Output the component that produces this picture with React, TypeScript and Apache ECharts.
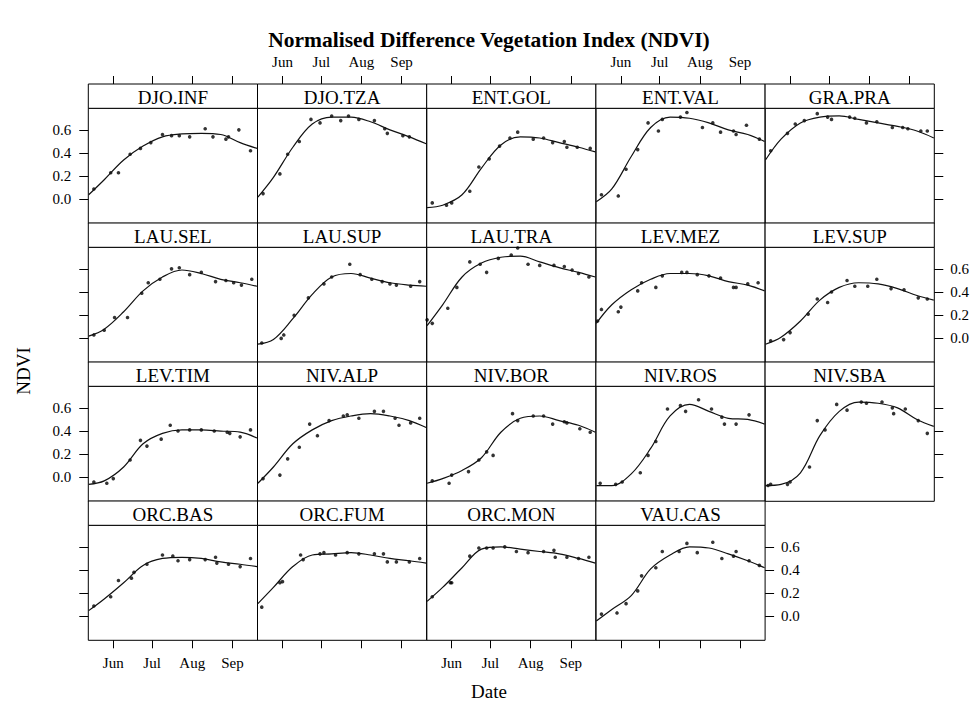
import React, { useEffect, useRef } from 'react';
import * as echarts from 'echarts';

const sites = [
  'DJO.INF', 'DJO.TZA', 'ENT.GOL', 'ENT.VAL', 'GRA.PRA',
  'LAU.SEL', 'LAU.SUP', 'LAU.TRA', 'LEV.MEZ', 'LEV.SUP',
  'LEV.TIM', 'NIV.ALP', 'NIV.BOR', 'NIV.ROS', 'NIV.SBA',
  'ORC.BAS', 'ORC.FUM', 'ORC.MON', 'VAU.CAS',
];

// observation day-of-year per site
const obsDays: number[][] = [
  [137, 150, 156, 165, 173, 181, 190, 197, 203, 211, 223, 229, 239, 241, 249, 258],
  [137, 150, 156, 165, 174, 181, 190, 197, 203, 211, 223, 231, 233, 245, 250],
  [137, 148, 152, 166, 173, 181, 189, 197, 203, 215, 223, 230, 239, 241, 249, 259],
  [137, 150, 156, 165, 173, 181, 184, 198, 203, 215, 223, 229, 239, 241, 249, 259],
  [137, 150, 156, 163, 173, 181, 184, 198, 202, 211, 219, 231, 239, 243, 253, 258],
  [137, 145, 153, 163, 174, 179, 188, 197, 203, 211, 220, 231, 239, 245, 251, 259],
  [136, 151, 153, 161, 172, 184, 190, 204, 212, 221, 229, 235, 240, 251, 258],
  [133, 137, 149, 156, 166, 174, 179, 188, 198, 203, 211, 220, 231, 239, 245, 250, 258],
  [134, 137, 150, 152, 165, 168, 179, 184, 199, 203, 211, 220, 229, 239, 241, 250, 258],
  [137, 147, 152, 166, 173, 181, 184, 196, 202, 212, 219, 230, 240, 251, 258],
  [137, 147, 152, 165, 173, 178, 189, 196, 202, 211, 220, 230, 240, 242, 250, 258],
  [137, 150, 156, 165, 173, 179, 188, 199, 202, 211, 223, 230, 239, 242, 251, 258],
  [137, 150, 152, 165, 173, 179, 184, 199, 203, 215, 223, 230, 239, 241, 251, 259],
  [136, 148, 153, 167, 173, 179, 188, 198, 202, 212, 222, 230, 232, 241, 251],
  [135, 137, 150, 152, 167, 173, 179, 188, 196, 207, 211, 223, 231, 232, 241, 251, 258],
  [137, 150, 156, 166, 168, 178, 190, 198, 202, 211, 223, 231, 232, 241, 250, 258],
  [136, 150, 152, 166, 168, 181, 184, 193, 202, 211, 223, 230, 233, 240, 250, 258],
  [137, 151, 152, 166, 173, 179, 184, 193, 202, 211, 223, 231, 232, 241, 250, 258],
  [137, 149, 156, 165, 168, 179, 184, 197, 203, 211, 223, 230, 239, 241, 251, 259],
];

// observed NDVI per site
const obsNdvi: number[][] = [
  [0.09, 0.23, 0.23, 0.39, 0.44, 0.49, 0.56, 0.55, 0.55, 0.54, 0.61, 0.54, 0.52, 0.54, 0.60, 0.42],
  [0.05, 0.22, 0.39, 0.50, 0.69, 0.66, 0.72, 0.68, 0.72, 0.69, 0.68, 0.61, 0.57, 0.55, 0.54],
  [-0.03, -0.05, -0.03, 0.07, 0.28, 0.35, 0.46, 0.53, 0.58, 0.52, 0.53, 0.49, 0.50, 0.45, 0.45, 0.44],
  [0.04, 0.03, 0.26, 0.43, 0.66, 0.59, 0.69, 0.71, 0.75, 0.62, 0.66, 0.58, 0.59, 0.56, 0.64, 0.52],
  [0.42, 0.57, 0.65, 0.68, 0.74, 0.71, 0.69, 0.71, 0.70, 0.66, 0.67, 0.62, 0.62, 0.61, 0.59, 0.59],
  [0.03, 0.07, 0.18, 0.18, 0.39, 0.48, 0.51, 0.60, 0.61, 0.55, 0.57, 0.49, 0.50, 0.48, 0.46, 0.51],
  [-0.04, 0.00, 0.03, 0.20, 0.35, 0.47, 0.53, 0.64, 0.55, 0.51, 0.49, 0.47, 0.46, 0.45, 0.49],
  [0.16, 0.13, 0.26, 0.44, 0.66, 0.64, 0.57, 0.69, 0.72, 0.78, 0.64, 0.63, 0.63, 0.62, 0.59, 0.56, 0.53],
  [0.15, 0.25, 0.23, 0.27, 0.41, 0.48, 0.44, 0.54, 0.57, 0.57, 0.55, 0.54, 0.52, 0.44, 0.44, 0.47, 0.48],
  [-0.02, -0.01, 0.05, 0.21, 0.34, 0.31, 0.40, 0.50, 0.45, 0.45, 0.51, 0.43, 0.42, 0.35, 0.34],
  [-0.04, -0.05, -0.01, 0.15, 0.32, 0.27, 0.33, 0.45, 0.40, 0.41, 0.41, 0.40, 0.39, 0.38, 0.35, 0.41],
  [-0.01, 0.02, 0.16, 0.26, 0.46, 0.36, 0.49, 0.53, 0.54, 0.51, 0.57, 0.57, 0.51, 0.45, 0.47, 0.51],
  [-0.03, -0.05, 0.02, 0.05, 0.15, 0.22, 0.19, 0.55, 0.49, 0.53, 0.53, 0.46, 0.48, 0.47, 0.42, 0.39],
  [-0.05, -0.06, -0.04, 0.04, 0.19, 0.31, 0.59, 0.62, 0.57, 0.67, 0.59, 0.52, 0.46, 0.46, 0.54],
  [-0.07, -0.06, -0.06, -0.04, 0.09, 0.49, 0.41, 0.63, 0.58, 0.65, 0.64, 0.65, 0.60, 0.55, 0.59, 0.49, 0.38],
  [0.09, 0.17, 0.31, 0.33, 0.38, 0.45, 0.53, 0.52, 0.48, 0.49, 0.49, 0.51, 0.46, 0.45, 0.43, 0.50],
  [0.08, 0.29, 0.30, 0.53, 0.49, 0.54, 0.55, 0.53, 0.55, 0.54, 0.54, 0.54, 0.47, 0.47, 0.47, 0.50],
  [0.17, 0.29, 0.29, 0.52, 0.59, 0.59, 0.59, 0.60, 0.56, 0.55, 0.56, 0.57, 0.51, 0.51, 0.50, 0.51],
  [0.02, 0.03, 0.11, 0.22, 0.35, 0.42, 0.56, 0.56, 0.63, 0.55, 0.64, 0.50, 0.52, 0.56, 0.48, 0.44],
];

// smoothed curve, read at these days
const curveDays = [133, 145, 160, 175, 190, 205, 220, 235, 250, 263];
const curveNdvi: number[][] = [
  [0.04, 0.17, 0.34, 0.46, 0.54, 0.565, 0.57, 0.56, 0.49, 0.44],
  [0.02, 0.19, 0.45, 0.65, 0.71, 0.71, 0.67, 0.60, 0.54, 0.48],
  [-0.07, -0.05, 0.04, 0.27, 0.47, 0.54, 0.53, 0.49, 0.45, 0.41],
  [-0.02, 0.09, 0.37, 0.62, 0.71, 0.70, 0.66, 0.60, 0.56, 0.50],
  [0.34, 0.52, 0.66, 0.71, 0.72, 0.69, 0.66, 0.63, 0.59, 0.53],
  [0.02, 0.08, 0.23, 0.41, 0.53, 0.59, 0.56, 0.51, 0.48, 0.45],
  [-0.05, -0.01, 0.17, 0.38, 0.53, 0.56, 0.52, 0.48, 0.46, 0.45],
  [0.11, 0.29, 0.53, 0.65, 0.70, 0.71, 0.66, 0.61, 0.57, 0.53],
  [0.13, 0.29, 0.42, 0.51, 0.56, 0.56, 0.54, 0.49, 0.46, 0.41],
  [-0.05, 0.01, 0.15, 0.33, 0.44, 0.48, 0.47, 0.43, 0.37, 0.33],
  [-0.06, -0.03, 0.09, 0.29, 0.38, 0.41, 0.41, 0.40, 0.39, 0.34],
  [-0.05, 0.09, 0.29, 0.41, 0.49, 0.53, 0.55, 0.53, 0.49, 0.43],
  [-0.05, -0.01, 0.06, 0.17, 0.39, 0.51, 0.53, 0.49, 0.45, 0.39],
  [-0.07, -0.07, 0.03, 0.25, 0.53, 0.63, 0.57, 0.51, 0.50, 0.46],
  [-0.07, -0.06, 0.04, 0.36, 0.57, 0.65, 0.64, 0.60, 0.50, 0.44],
  [0.05, 0.15, 0.29, 0.44, 0.50, 0.51, 0.50, 0.47, 0.45, 0.43],
  [0.11, 0.25, 0.43, 0.53, 0.54, 0.55, 0.53, 0.50, 0.48, 0.46],
  [0.13, 0.25, 0.42, 0.58, 0.60, 0.58, 0.56, 0.54, 0.50, 0.46],
  [-0.04, 0.06, 0.18, 0.41, 0.53, 0.60, 0.59, 0.54, 0.48, 0.42],
];

const monthTicks = [152, 182, 213, 244];
const monthLabels = ['Jun', 'Jul', 'Aug', 'Sep'];
const ndviTicks = [0, 0.2, 0.4, 0.6];

const FONT = '"Liberation Serif", "Times New Roman", serif';
const NCOL = 5;
const PANEL_W = 169.2;
const PANEL_H = 115;
const STRIP_H = 24.3;
const ROW_H = 139;
const LEFT0 = 88.3;
const TOP0 = 108.3;
const X_MIN = 132.7;
const X_MAX = 263.4;
const Y_MIN = -0.206;
const Y_MAX = 0.786;

function monthName(v: number) {
  let best = 0;
  for (let k = 1; k < monthTicks.length; k++) {
    if (Math.abs(monthTicks[k] - v) < Math.abs(monthTicks[best] - v)) best = k;
  }
  return monthLabels[best];
}

export default function App() {
  const ref = useRef<HTMLDivElement>(null);
  useEffect(() => {
    if (!ref.current) return;
    const chart = echarts.init(ref.current, null, { renderer: 'svg' });
    const n = sites.length;
    const nRows = Math.ceil(n / NCOL);
    const labelStyle = { color: '#000', fontFamily: FONT, fontSize: 15 };
    const tickLine = { color: '#000', width: 1 };
    const grids: any[] = [];
    const xAxes: any[] = [];
    const yAxes: any[] = [];
    const extraX: any[] = [];
    const extraY: any[] = [];
    const series: any[] = [];
    const graphics: any[] = [];

    const xAxisBase = (gridIndex: number) => ({
      gridIndex,
      type: 'value',
      min: X_MIN,
      max: X_MAX,
      axisLine: { show: false, onZero: false },
      splitLine: { show: false },
    });
    const yAxisBase = (gridIndex: number) => ({
      gridIndex,
      type: 'value',
      min: Y_MIN,
      max: Y_MAX,
      axisLine: { show: false, onZero: false },
      splitLine: { show: false },
    });

    for (let i = 0; i < n; i++) {
      const row = Math.floor(i / NCOL);
      const col = i % NCOL;
      const left = LEFT0 + col * PANEL_W;
      const top = TOP0 + row * ROW_H;
      grids.push({
        left, top, width: PANEL_W, height: PANEL_H,
        show: true, borderColor: '#000', borderWidth: 1,
        backgroundColor: 'transparent', containLabel: false, outerBoundsMode: 'none',
      });
      const isBottom = row === nRows - 1;
      xAxes.push({
        ...xAxisBase(i),
        position: 'bottom',
        show: isBottom,
        axisTick: { show: true, inside: false, length: 8, lineStyle: tickLine, customValues: monthTicks },
        axisLabel: {
          show: col % 2 === 0, customValues: monthTicks, margin: 15,
          formatter: (v: number) => monthName(v), ...labelStyle,
        },
      });
      yAxes.push({
        ...yAxisBase(i),
        position: 'left',
        show: col === 0,
        axisTick: { show: true, inside: false, length: 9, lineStyle: tickLine, customValues: ndviTicks },
        axisLabel: {
          show: row % 2 === 0, customValues: ndviTicks, margin: 17,
          formatter: (v: number) => v.toFixed(1), ...labelStyle,
        },
      });
      if (row === 0) {
        extraX.push({
          ...xAxisBase(i),
          position: 'top',
          offset: STRIP_H,
          show: true,
          axisTick: { show: true, inside: false, length: 8, lineStyle: tickLine, customValues: monthTicks },
          axisLabel: {
            show: col % 2 === 1, customValues: monthTicks, margin: 15,
            formatter: (v: number) => monthName(v), ...labelStyle,
          },
        });
      }
      if (col === NCOL - 1 || i === n - 1) {
        extraY.push({
          ...yAxisBase(i),
          position: 'right',
          show: true,
          axisTick: { show: true, inside: false, length: 9, lineStyle: tickLine, customValues: ndviTicks },
          axisLabel: {
            show: row % 2 === 1, customValues: ndviTicks, margin: 16,
            formatter: (v: number) => v.toFixed(1), ...labelStyle,
          },
        });
      }
      series.push({
        type: 'scatter',
        xAxisIndex: i,
        yAxisIndex: i,
        symbol: 'circle',
        symbolSize: 3.6,
        itemStyle: { color: '#000' },
        data: obsDays[i].map((d, k) => [d, obsNdvi[i][k]]),
        silent: true,
      });
      series.push({
        type: 'line',
        xAxisIndex: i,
        yAxisIndex: i,
        smooth: 0.35,
        showSymbol: false,
        symbol: 'none',
        lineStyle: { color: '#111', width: 1.2 },
        data: curveDays.map((d, k) => [d, curveNdvi[i][k]]),
        silent: true,
      });
      graphics.push({
        type: 'rect',
        shape: { x: left, y: top - STRIP_H, width: PANEL_W, height: STRIP_H },
        style: { fill: '#fff', stroke: '#000', lineWidth: 1 },
      });
      graphics.push({
        type: 'text',
        x: left + PANEL_W / 2,
        y: top - STRIP_H / 2 + 1,
        style: {
          text: sites[i], font: `19px ${FONT}`, fill: '#000',
          textAlign: 'center', textVerticalAlign: 'middle',
        },
      });
    }

    graphics.push({
      type: 'text', x: 489, y: 40,
      style: {
        text: 'Normalised Difference Vegetation Index (NDVI)',
        font: `bold 21.5px ${FONT}`, fill: '#000',
        textAlign: 'center', textVerticalAlign: 'middle',
      },
    });
    graphics.push({
      type: 'text', x: 489, y: 691,
      style: { text: 'Date', font: `19px ${FONT}`, fill: '#000', textAlign: 'center', textVerticalAlign: 'middle' },
    });
    graphics.push({
      type: 'text', x: 23, y: 371, rotation: Math.PI / 2,
      style: { text: 'NDVI', font: `19px ${FONT}`, fill: '#000', textAlign: 'center', textVerticalAlign: 'middle' },
    });

    chart.setOption({
      animation: false,
      backgroundColor: '#fff',
      grid: grids,
      xAxis: [...xAxes, ...extraX],
      yAxis: [...yAxes, ...extraY],
      series,
      graphic: { elements: graphics },
    });
    return () => chart.dispose();
  }, []);
  return (
    <div
      ref={ref}
      style={{ position: 'fixed', left: 0, top: 0, width: 978, height: 706 }}
    />
  );
}
